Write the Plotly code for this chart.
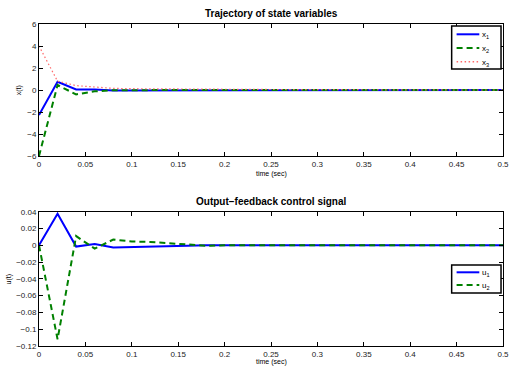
import plotly.graph_objects as go

# sample times (sec)
t = [round(0.02 * k, 2) for k in range(26)]

# state trajectories
x1 = [-2.27, 0.75, 0.05, 0.04, -0.05, -0.05, -0.04, -0.03, -0.02, -0.01] + [0.0] * 16
x2 = [-6.0, 0.45, -0.4, -0.12, -0.02, -0.03, -0.02, -0.01, 0.0] + [0.0] * 17
x3 = [4.0, 0.8, 0.4, 0.3, 0.15, 0.12, 0.1, 0.1, 0.1, 0.08, 0.07, 0.06, 0.05,
      0.04, 0.03, 0.02, 0.01] + [0.0] * 9

# control signals
u1 = [0.0, 0.0375, -0.0015, 0.0015, -0.0025, -0.0022, -0.0018, -0.0012,
      -0.0005, 0.0] + [0.0] * 16
u2 = [0.0, -0.112, 0.011, -0.004, 0.0068, 0.0045, 0.004, 0.0025, 0.0005,
      -0.0005, 0.0] + [0.0] * 15

x_ticks = [0, 0.05, 0.1, 0.15, 0.2, 0.25, 0.3, 0.35, 0.4, 0.45, 0.5]
x_tick_text = ["0", "0.05", "0.1", "0.15", "0.2", "0.25", "0.3", "0.35", "0.4", "0.45", "0.5"]
top_y_ticks = [-6, -4, -2, 0, 2, 4, 6]
bot_y_ticks = [-0.12, -0.1, -0.08, -0.06, -0.04, -0.02, 0, 0.02, 0.04]
bot_y_text = ["\u22120.12", "\u22120.1", "\u22120.08", "\u22120.06", "\u22120.04",
              "\u22120.02", "0", "0.02", "0.04"]

FONT = "Liberation Sans, Arial, sans-serif"

# trace styles, shared by the curves and the legend keys
STYLES = {
    "x1": dict(color="#0000ff", width=2, dash="solid"),
    "x2": dict(color="#008000", width=2, dash="6px,4px"),
    "x3": dict(color="#ff6a6a", width=1.2, dash="1.5px,2.5px"),
    "u1": dict(color="#0000ff", width=2, dash="solid"),
    "u2": dict(color="#008000", width=2, dash="6px,4px"),
}

fig = go.Figure()
for key, ys, xa, ya in [("x1", x1, "x", "y"), ("x2", x2, "x", "y"), ("x3", x3, "x", "y"),
                        ("u1", u1, "x2", "y2"), ("u2", u2, "x2", "y2")]:
    fig.add_trace(go.Scatter(x=t, y=ys, mode="lines", name=key,
                             line=STYLES[key], xaxis=xa, yaxis=ya, showlegend=False))

axis_common = dict(showline=True, linecolor="black", linewidth=1, mirror="allticks",
                   ticks="inside", ticklen=4, tickcolor="black", showgrid=False,
                   zeroline=False, tickfont=dict(size=8, color="#222", family=FONT))

fig.update_layout(
    width=516, height=371,
    margin=dict(l=39, r=7, t=24, b=25),
    paper_bgcolor="white", plot_bgcolor="white",
    font=dict(family=FONT, color="black"),
    showlegend=False,
    xaxis=dict(domain=[0, 1], range=[0, 0.5], anchor="y",
               tickvals=x_ticks, ticktext=x_tick_text, **axis_common),
    yaxis=dict(domain=[0.59, 1], range=[-6, 6], anchor="x",
               tickvals=top_y_ticks, **axis_common),
    xaxis2=dict(domain=[0, 1], range=[0, 0.5], anchor="y2",
                tickvals=x_ticks, ticktext=x_tick_text, **axis_common),
    yaxis2=dict(domain=[0, 0.417], range=[-0.12, 0.04], anchor="x2",
                tickvals=bot_y_ticks, ticktext=bot_y_text, **axis_common),
)

# pixel -> paper conversion for the decorations
plot_l, plot_w, plot_t, plot_h = 39, 470, 24, 322


def px_x(v):
    return (v - plot_l) / plot_w


def px_y(v):
    return (plot_t + plot_h - v) / plot_h


annotations = [
    dict(text="<b>Trajectory of state variables</b>", x=px_x(274), y=px_y(13)),
    dict(text="<b>Output\u2212feedback control signal</b>", x=px_x(274), y=px_y(201)),
    dict(text="time (sec)", x=px_x(274), y=px_y(174), size=7),
    dict(text="time (sec)", x=px_x(274), y=px_y(362), size=7),
    dict(text="x(t)", x=px_x(19), y=px_y(90), size=7, textangle=-90),
    dict(text="u(t)", x=px_x(9), y=px_y(279), size=7, textangle=-90),
]
anns = []
for a in annotations:
    size = a.pop("size", 10)
    anns.append(dict(xref="paper", yref="paper", showarrow=False,
                     xanchor="center", yanchor="middle",
                     font=dict(size=size, family=FONT, color="black"), **a))

shapes = []
# legend boxes: (left, top, right, bottom) in pixels, with entries
legends = [
    ((457, 26, 507, 69), [("x1", "x", "1", 34.3), ("x2", "x", "2", 48), ("x3", "x", "3", 61.7)]),
    ((457, 265, 507, 293), [("u1", "u", "1", 272.3), ("u2", "u", "2", 285)]),
]
for (l, tp, r, b), entries in legends:
    shapes.append(dict(type="rect", xref="paper", yref="paper",
                       x0=px_x(l), x1=px_x(r), y0=px_y(b), y1=px_y(tp),
                       line=dict(color="black", width=1.5), fillcolor="white", layer="above"))
    for key, base, sub, yy in entries:
        st = STYLES[key]
        shapes.append(dict(type="line", xref="paper", yref="paper",
                           x0=px_x(462), x1=px_x(485), y0=px_y(yy), y1=px_y(yy),
                           line=dict(color=st["color"], width=st["width"] if key != "x3" else 1.5,
                                     dash=st["dash"]),
                           layer="above"))
        anns.append(dict(xref="paper", yref="paper", showarrow=False,
                         x=px_x(486), y=px_y(yy + 1), xanchor="left", yanchor="middle",
                         text=f"{base}<sub>{sub}</sub>",
                         font=dict(size=8, family=FONT, color="black")))

fig.update_layout(annotations=anns, shapes=shapes)

fig.write_html("out.html")
